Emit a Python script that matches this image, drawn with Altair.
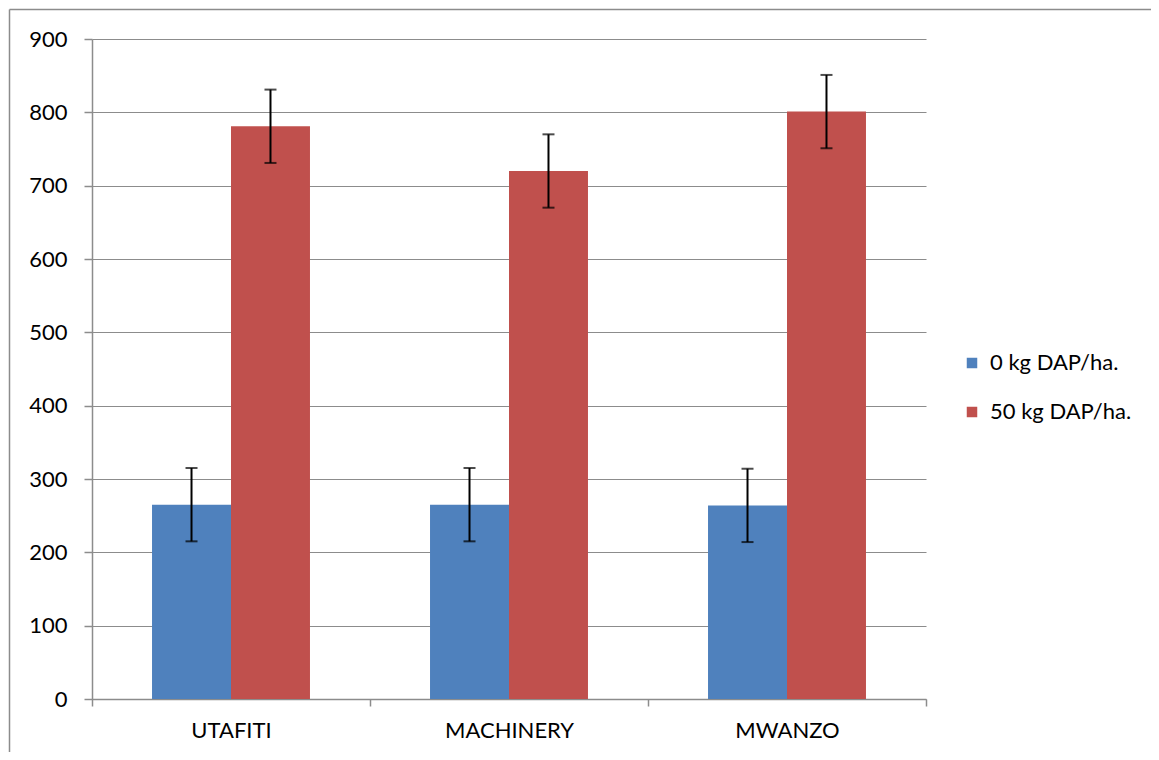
import altair as alt
import pandas as pd

categories = ["UTAFITI", "MACHINERY", "MWANZO"]
series_names = ["0 kg DAP/ha.", "50 kg DAP/ha."]
values_0kg = [265, 265, 264]
values_50kg = [781, 720, 801]
errors_0kg = [50, 50, 50]
errors_50kg = [50, 50, 50]
colors = ["#4F81BD", "#C0504D"]

rows = []
for i, c in enumerate(categories):
    for s, vals, errs in ((series_names[0], values_0kg, errors_0kg),
                          (series_names[1], values_50kg, errors_50kg)):
        rows.append({"cat": c, "series": s, "value": vals[i],
                     "lo": vals[i] - errs[i], "hi": vals[i] + errs[i]})
df = pd.DataFrame(rows)

FONT = "Lato"
GRID = "#8C8C8C"
FS = 22

x_enc = alt.X("cat:N", sort=categories, title=None,
              scale=alt.Scale(paddingInner=0, paddingOuter=0),
              axis=alt.Axis(labelAngle=0, tickBand="extent", labelFontSize=FS,
                            labelFont=FONT, labelColor="#000000", tickSize=7,
                            tickColor=GRID, domainColor=GRID, tickWidth=1.5,
                            domainWidth=1.5, labelPadding=14, grid=False))
xo_enc = alt.XOffset("series:N", sort=series_names,
                     scale=alt.Scale(paddingInner=0, paddingOuter=0.76))

base = alt.Chart(df)

bars = base.mark_bar(stroke=None).encode(
    x=x_enc,
    xOffset=xo_enc,
    y=alt.Y("value:Q", title=None,
            scale=alt.Scale(domain=[0, 900], nice=False),
            axis=alt.Axis(values=list(range(0, 901, 100)), labelFontSize=FS,
                          labelFont=FONT, labelColor="#000000", tickSize=8,
                          tickColor=GRID, domainColor=GRID, gridColor=GRID,
                          gridWidth=1.2, tickWidth=1.5, domainWidth=1.5,
                          labelPadding=17)),
    color=alt.Color("series:N", sort=series_names,
                    scale=alt.Scale(domain=series_names, range=colors),
                    legend=alt.Legend(title=None, orient="none", legendX=869,
                                      legendY=313, symbolType="square",
                                      symbolSize=110, symbolStrokeWidth=0,
                                      labelFontSize=FS, labelFont=FONT,
                                      labelColor="#000000", rowPadding=27,
                                      labelOffset=7)),
)

rules = base.mark_rule(color="#000000", strokeWidth=2).encode(
    x=alt.X("cat:N", sort=categories),
    xOffset=xo_enc,
    y="lo:Q",
    y2="hi:Q",
)

caps_lo = base.mark_tick(color="#000000", thickness=2, size=12).encode(
    x=alt.X("cat:N", sort=categories),
    xOffset=xo_enc,
    y="lo:Q",
)
caps_hi = base.mark_tick(color="#000000", thickness=2, size=12).encode(
    x=alt.X("cat:N", sort=categories),
    xOffset=xo_enc,
    y="hi:Q",
)

frame_top = alt.Chart(pd.DataFrame({"k": [0]})).mark_rule(
    color="#8C8C8C", strokeWidth=1.5).encode(
    x=alt.value(-82.5), x2=alt.value(1070), y=alt.value(-29.5))
frame_left = alt.Chart(pd.DataFrame({"k": [0]})).mark_rule(
    color="#8C8C8C", strokeWidth=1.5).encode(
    x=alt.value(-82.5), y=alt.value(-29.5), y2=alt.value(730))

chart = alt.layer(bars, rules, caps_lo, caps_hi, frame_top, frame_left).properties(
    width=834, height=660,
    autosize=alt.AutoSizeParams(type="none"),
    padding={"left": 84, "top": 31, "right": 225, "bottom": 53},
    background="#FFFFFF",
).configure_view(stroke=None)

chart.save("out.html", embed_options={"renderer": "svg", "actions": False})
